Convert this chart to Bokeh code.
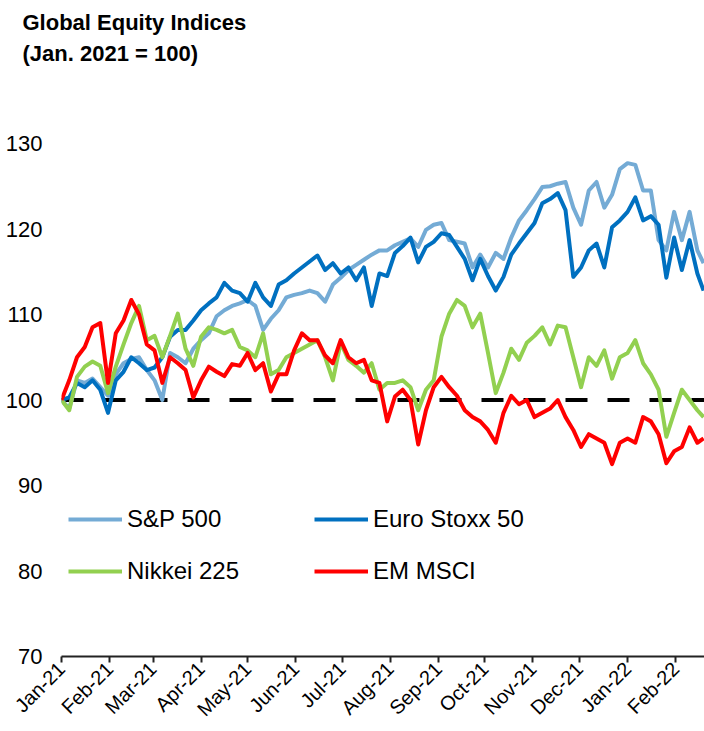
import pandas as pd
from math import pi
from bokeh.plotting import figure
from bokeh.models import (Span, Legend, LegendItem, FixedTicker, DatetimeTickFormatter,
                          Title, Range1d, ColumnDataSource)
from bokeh.embed import file_html
from bokeh.resources import INLINE

# ---------------- data ----------------
start_date = "2021-01-01"
day_offsets = list(range(0, 415, 5)) + [414]

sp500 = [100, 99.0, 102.3, 102, 102.5, 101.5, 100.5, 103, 104.3, 104.8,
         105, 103.5, 102.3, 100.0, 105.5, 105, 104.3, 106, 107, 107.8,
         109.8, 110.5, 111, 111.3, 111.7, 111, 108.2, 109.5, 110.5, 112,
         112.3, 112.5, 112.8, 112.5, 111.5, 113.5, 114.3, 115.2, 115.8, 116.4,
         117, 117.5, 117.5, 118.1, 118.5, 118.9, 117.9, 119.9, 120.5, 120.7,
         118.7, 118.5, 118.3, 115.5, 117, 115.5, 117.2, 116.5, 119, 121,
         122.2, 123.5, 124.9, 125, 125.3, 125.5, 122.5, 120.5, 124.5, 125.5,
         122.5, 124, 127, 127.7, 127.5, 124.5, 124.5, 118.7, 117.5, 122,
         118.7, 122, 117.5, 116]

eurostoxx = [100, 100.3, 102, 101.5, 102.3, 101.2, 98.5, 102.3, 103.3, 105,
             104.3, 103.5, 103.8, 105, 107.4, 108.2, 108.2, 109.3, 110.5, 111.3,
             112, 113.7, 112.8, 112.5, 111.5, 113.7, 112, 111, 113.5, 114,
             114.8, 115.5, 116.2, 116.9, 115.2, 116, 114.8, 115.5, 114, 115.5,
             111, 114.8, 114.5, 117.2, 118, 119, 116.1, 117.9, 118.5, 119.5,
             119.3, 117.9, 116.5, 114, 116.5, 114.5, 112.8, 114.4, 117, 118.3,
             119.5, 120.7, 123, 123.5, 124.2, 122.2, 114.4, 115.5, 117.5, 118.3,
             115.5, 120.2, 121, 122, 123.7, 121, 121.5, 120.5, 114.3, 119,
             115.2, 118.7, 114.8, 112.8]

nikkei = [100, 98.8, 102.7, 103.9, 104.5, 104, 100.8, 103.9, 106.5, 109,
          111, 107, 107.5, 105, 107.5, 110.1, 106, 104, 107.4, 108.5,
          108.2, 107.8, 108.2, 106.2, 105.8, 105, 107.8, 103, 103.5, 105,
          105.5, 106, 106.5, 107, 105, 102.3, 106.7, 104.7, 104, 103.2,
          104.3, 101.2, 102, 102, 102.3, 101.5, 98.8, 101.2, 102.3, 107.4,
          110.1, 111.7, 111, 108.5, 110.1, 105.5, 100.8, 103.2, 106, 104.7,
          106.7, 107.5, 108.5, 106.5, 108.7, 108.5, 105, 101.5, 105, 104,
          105.8, 102.5, 105, 105.5, 107, 104.3, 103, 101.2, 95.7, 98.5,
          101.2, 100, 98.8, 98]

em_msci = [100, 102.3, 105, 106.2, 108.5, 109, 102, 107.8, 109.3, 111.7,
           110, 106.5, 105.8, 102, 105, 104.3, 103.5, 100.3, 102.3, 103.9,
           103.3, 102.8, 104.2, 104, 105.5, 103.5, 104.3, 101, 103, 103,
           105.8, 107.8, 107, 107, 105.2, 104.3, 107, 105, 104.3, 104.7,
           102.3, 102, 97.5, 100.4, 101.2, 100, 94.8, 98.8, 101.5, 102.7,
           101.5, 100.5, 98.8, 98, 97.5, 96.5, 95, 98.5, 100.5, 99.5,
           100, 98, 98.5, 99, 100, 98, 96.5, 94.5, 96, 95.5,
           95, 92.5, 95, 95.5, 95, 98, 97.5, 96, 92.6, 94,
           94.5, 96.8, 95, 95.5]

series_names = ["S&P 500", "Euro Stoxx 50", "Nikkei 225", "EM MSCI"]
series_colors = ["#74ABD5", "#0070C0", "#92D050", "#FF0000"]
month_ticks = pd.date_range("2021-01-01", "2022-02-01", freq="MS")
y_ticks = [70, 80, 90, 100, 110, 120, 130]
base_level = 100
x_end_offset = 414.6
title_line1 = "Global Equity Indices"
title_line2 = "(Jan. 2021 = 100)"

# ---------------- figure ----------------
t0 = pd.Timestamp(start_date)
dates = [t0 + pd.Timedelta(days=d) for d in day_offsets]
src = ColumnDataSource(dict(date=dates, sp=sp500, eu=eurostoxx, nk=nikkei, em=em_msci))

p = figure(width=704, height=731, x_axis_type="datetime",
           x_range=Range1d(t0, t0 + pd.Timedelta(days=x_end_offset)),
           y_range=Range1d(70, 130),
           output_backend="svg", toolbar_location=None,
           min_border_left=61, min_border_right=0, min_border_top=143, min_border_bottom=75)
p.outline_line_color = None
p.xgrid.visible = False
p.ygrid.visible = False
p.background_fill_color = "white"

span = Span(location=base_level, dimension="width", line_color="black",
            line_width=4, line_dash="22 20", level="underlay")
p.add_layout(span)

renderers = []
for col, name, color in zip(["sp", "eu", "nk", "em"], series_names, series_colors):
    r = p.line("date", col, source=src, line_color=color, line_width=4, line_join="round")
    renderers.append(r)

# axes
ya = p.yaxis[0]
ya.ticker = FixedTicker(ticks=y_ticks)
ya.axis_line_color = None
ya.major_tick_line_color = None
ya.minor_tick_line_color = None
ya.major_tick_out = 0
ya.major_tick_in = 0
ya.major_label_standoff = 19
ya.major_label_text_font = "Liberation Sans"
ya.major_label_text_font_size = "22px"
ya.major_label_text_color = "black"

xa = p.xaxis[0]
xa.ticker = FixedTicker(ticks=[t.value // 10**6 for t in month_ticks])
xa.formatter = DatetimeTickFormatter(days="%b-%y", months="%b-%y", years="%b-%y",
                                     hours="%b-%y", minutes="%b-%y", seconds="%b-%y",
                                     milliseconds="%b-%y", microseconds="%b-%y",
                                     hourmin="%b-%y", minsec="%b-%y")
xa.axis_line_color = "#222222"
xa.axis_line_width = 2
xa.major_tick_line_color = "#222222"
xa.major_tick_line_width = 2
xa.major_tick_out = 6
xa.major_tick_in = 0
xa.minor_tick_line_color = None
xa.major_label_orientation = pi / 4
xa.major_label_standoff = 3
xa.major_label_text_font = "Liberation Sans"
xa.major_label_text_font_size = "20px"
xa.major_label_text_color = "black"

# legends (2 x 2 grid)
legend_pos = [(7, 123), (253, 123), (7, 71), (253, 71)]
for r, name, pos in zip(renderers, series_names, legend_pos):
    lg = Legend(items=[LegendItem(label=name, renderers=[r])], location=pos,
                padding=0, margin=0, border_line_color=None, background_fill_alpha=0,
                glyph_width=54, glyph_height=26, label_height=26, label_standoff=5,
                label_text_font="Liberation Sans", label_text_font_size="24px",
                label_text_color="black")
    p.add_layout(lg)

# title (two lines, pushed to the top of the canvas by an empty spacer title)
title_style = dict(text_font="Liberation Sans", text_font_style="bold",
                   text_font_size="22px", text_color="black")
p.title.text = title_line1
p.title.align = "left"
p.title.offset = -39
p.title.standoff = 4
for k, v in title_style.items():
    setattr(p.title, k, v)
spacer = Title(text=" ", standoff=73, text_font_size="1px")
sub = Title(text=title_line2, align="left", offset=-39, standoff=4, **title_style)
p.add_layout(spacer, "above")
p.add_layout(sub, "above")

open("out.html", "w").write(file_html(p, INLINE))
